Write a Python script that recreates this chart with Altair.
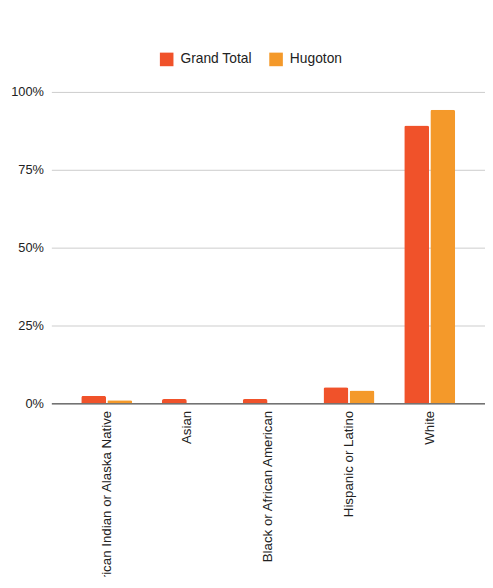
import altair as alt
import pandas as pd

categories = ["American Indian or Alaska Native", "Asian", "Black or African American",
              "Hispanic or Latino", "White"]
series = ["Grand Total", "Hugoton"]
grand_total = [0.024, 0.014, 0.014, 0.052, 0.892]
hugoton = [0.010, 0.0, 0.0, 0.041, 0.943]
colors = ["#F0522A", "#F4992A"]

rows = []
for c, g, h in zip(categories, grand_total, hugoton):
    rows.append({"category": c, "series": "Grand Total", "value": g})
    rows.append({"category": c, "series": "Hugoton", "value": h})
df = pd.DataFrame(rows)

chart = alt.Chart(df).mark_bar(cornerRadiusTopLeft=2, cornerRadiusTopRight=2).encode(
    x=alt.X("category:N", sort=categories, title=None,
            scale=alt.Scale(paddingInner=0.37, paddingOuter=0.37),
            axis=alt.Axis(labelAngle=-90, labelFontSize=13.5, labelColor="#222",
                          labelFont="Liberation Sans", ticks=False, domain=True,
                          domainColor="#333", labelPadding=7, labelLimit=400)),
    xOffset=alt.XOffset("series:N", sort=series, scale=alt.Scale(paddingInner=0.05)),
    y=alt.Y("value:Q", title=None,
            scale=alt.Scale(domain=[0, 1]),
            axis=alt.Axis(format="%", values=[0, 0.25, 0.5, 0.75, 1.0], labelFontSize=13,
                          labelColor="#222", labelFont="Liberation Sans", ticks=False,
                          domain=False, gridColor="#cccccc", labelPadding=8)),
    color=alt.Color("series:N", sort=series,
                    scale=alt.Scale(domain=series, range=colors),
                    legend=alt.Legend(title=None, orient="none", direction="horizontal",
                                      legendX=110, legendY=-40, symbolType="square",
                                      symbolSize=190, symbolStrokeWidth=0,
                                      labelFontSize=14, labelFont="Liberation Sans",
                                      labelColor="#222", labelOffset=7, columnPadding=17,
                                      padding=0)),
).properties(
    width=440, height=316,
    autosize=alt.AutoSizeParams(type="none"),
    padding={"left": 44, "top": 81, "right": 0, "bottom": 172},
).configure_view(stroke=None)

chart.save("out.html", embed_options={"renderer": "svg", "actions": False})
